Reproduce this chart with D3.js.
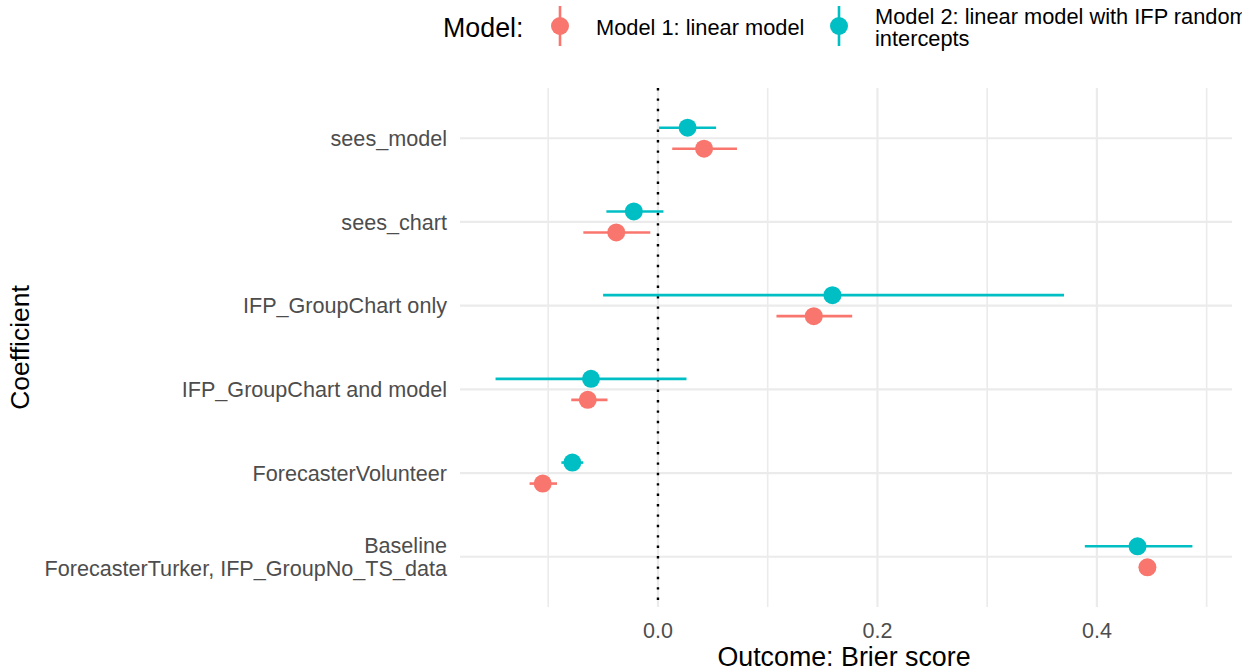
<!DOCTYPE html>
<html>
<head>
<meta charset="utf-8">
<script src="https://cdn.jsdelivr.net/npm/d3@7"></script>
<style>
	body { margin: 0; background: #fff; }
	text { font-family: "Liberation Sans", Arial, sans-serif; }
</style>
</head>
<body>
<svg width="1242" height="671"></svg>
<script>
// coefficient names, top to bottom
const terms = [
	"sees_model",
	"sees_chart",
	"IFP_GroupChart only",
	"IFP_GroupChart and model",
	"ForecasterVolunteer",
	"Baseline\nForecasterTurker, IFP_GroupNo_TS_data",
];
const models = ["Model 1: linear model", "Model 2: linear model with IFP random intercepts"];

// estimates and CI bounds, same order as terms
const m1Est = [0.042, -0.038, 0.142, -0.064, -0.105, 0.446];
const m1Lo = [0.013, -0.068, 0.108, -0.079, -0.117, 0.442];
const m1Hi = [0.072, -0.007, 0.177, -0.046, -0.092, 0.450];
const m2Est = [0.027, -0.022, 0.159, -0.061, -0.078, 0.437];
const m2Lo = [0.001, -0.047, -0.050, -0.148, -0.088, 0.389];
const m2Hi = [0.053, 0.005, 0.370, 0.026, -0.068, 0.487];

const xTicks = [0.0, 0.2, 0.4];
const xMinor = [-0.1, 0.1, 0.3, 0.5];

const svg = d3.select("svg");
const panel = { left: 460, right: 1232, top: 88, bottom: 607 };
const colors = d3.scaleOrdinal().domain(models).range(["#F8766D", "#00BFC4"]);

const x = d3.scaleLinear().domain([-0.1804, 0.5231]).range([panel.left, panel.right]);
const y = d3.scalePoint().domain(terms).range([panel.top, panel.bottom]).padding(0.6);
const dodge = d3.scalePoint().domain([models[1], models[0]]).range([-10.5, 10.5]);

const rows = [];
terms.forEach((t, i) => {
	rows.push({ term: t, model: models[0], est: m1Est[i], lo: m1Lo[i], hi: m1Hi[i] });
	rows.push({ term: t, model: models[1], est: m2Est[i], lo: m2Lo[i], hi: m2Hi[i] });
});

// grid
const grid = svg.append("g");
grid.selectAll("line.minor")
	.data(xMinor)
	.enter()
	.append("line")
	.attr("x1", d => x(d)).attr("x2", d => x(d))
	.attr("y1", panel.top).attr("y2", panel.bottom)
	.attr("stroke", "#ebebeb").attr("stroke-width", 1.6);
grid.selectAll("line.major")
	.data(xTicks)
	.enter()
	.append("line")
	.attr("x1", d => x(d)).attr("x2", d => x(d))
	.attr("y1", panel.top).attr("y2", panel.bottom)
	.attr("stroke", "#ebebeb").attr("stroke-width", 2.2);
grid.selectAll("line.h")
	.data(terms)
	.enter()
	.append("line")
	.attr("x1", panel.left).attr("x2", panel.right)
	.attr("y1", d => y(d)).attr("y2", d => y(d))
	.attr("stroke", "#ebebeb").attr("stroke-width", 2.2);

// zero reference
svg.append("line")
	.attr("x1", x(0)).attr("x2", x(0))
	.attr("y1", panel.top).attr("y2", panel.bottom)
	.attr("stroke", "#000").attr("stroke-width", 2.4)
	.attr("stroke-dasharray", "2.4,8");

// error bars + points
const marks = svg.append("g")
	.selectAll("g")
	.data(rows)
	.enter()
	.append("g")
	.attr("transform", d => `translate(0,${y(d.term) + dodge(d.model)})`);
marks.append("line")
	.attr("x1", d => x(d.lo)).attr("x2", d => x(d.hi))
	.attr("stroke", d => colors(d.model))
	.attr("stroke-width", 2.6);
marks.append("circle")
	.attr("cx", d => x(d.est))
	.attr("r", 9)
	.attr("fill", d => colors(d.model));

// x axis
svg.append("g")
	.selectAll("text")
	.data(xTicks)
	.enter()
	.append("text")
	.attr("x", d => x(d)).attr("y", 638)
	.attr("text-anchor", "middle")
	.attr("font-size", 21.5)
	.attr("fill", "#4d4d4d")
	.text(d3.format(".1f"));

// y axis labels
const ylab = svg.append("g")
	.selectAll("text")
	.data(terms)
	.enter()
	.append("text")
	.attr("text-anchor", "end")
	.attr("font-size", 21.6)
	.attr("fill", "#4d4d4d")
	.attr("transform", d => `translate(447,${y(d)})`);
ylab.each(function(d) {
	const lines = d.split("\n");
	const t = d3.select(this);
	lines.forEach((ln, i) => {
		t.append("tspan")
			.attr("x", 0)
			.attr("y", (i - (lines.length - 1) / 2) * 23)
			.attr("dy", "0.36em")
			.text(ln);
	});
});

// titles
svg.append("text")
	.attr("x", 844).attr("y", 666)
	.attr("text-anchor", "middle")
	.attr("font-size", 26.8)
	.text("Outcome: Brier score");
svg.append("text")
	.attr("transform", `translate(29,${(panel.top + panel.bottom) / 2}) rotate(-90)`)
	.attr("text-anchor", "middle")
	.attr("font-size", 26.5)
	.text("Coefficient");

// legend
const legend = svg.append("g");
legend.append("text")
	.attr("x", 443).attr("y", 27)
	.attr("dy", "0.36em")
	.attr("font-size", 26.8)
	.text("Model:");
const keyX = [560, 839];
const labelLines = [["Model 1: linear model"], ["Model 2: linear model with IFP random", "intercepts"]];
models.forEach((m, i) => {
	legend.append("line")
		.attr("x1", keyX[i]).attr("x2", keyX[i])
		.attr("y1", 6).attr("y2", 46)
		.attr("stroke", colors(m)).attr("stroke-width", 2.6);
	legend.append("circle")
		.attr("cx", keyX[i]).attr("cy", 26).attr("r", 9)
		.attr("fill", colors(m));
	const t = legend.append("text")
		.attr("font-size", 21.8)
		.attr("fill", "#000");
	labelLines[i].forEach((ln, j) => {
		t.append("tspan")
			.attr("x", keyX[i] + 36)
			.attr("y", 27 + (j - (labelLines[i].length - 1) / 2) * 22.5)
			.attr("dy", "0.36em")
			.text(ln);
	});
});
</script>
</body>
</html>
